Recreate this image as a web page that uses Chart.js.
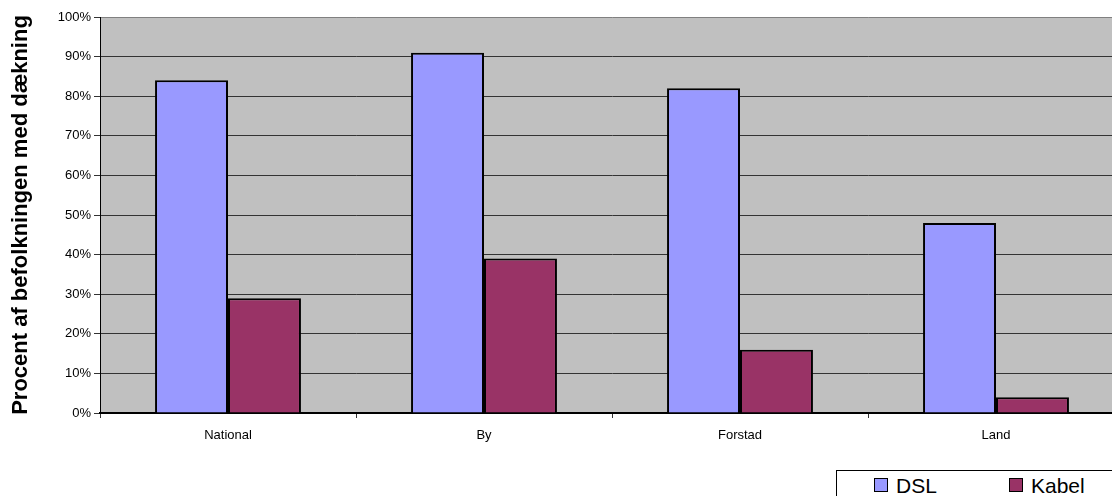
<!DOCTYPE html>
<html>
<head>
<meta charset="utf-8">
<script src="https://cdn.jsdelivr.net/npm/chart.js@4/dist/chart.umd.min.js"></script>
<style>
    body { margin: 0; background: #fff; overflow: hidden; width: 1112px; height: 496px; position: relative; font-family: "Liberation Sans", Arial, sans-serif; }
    #wrap { position: absolute; left: 0; top: 0; width: 1140px; height: 496px; }
    #legend { position: absolute; left: 836px; top: 470px; width: 300px; height: 40px; border: 1px solid #000; background: #fff; box-sizing: border-box; }
    .item { position: absolute; top: 3px; font-size: 21px; color: #000; line-height: 24px; }
    .swatch { display: inline-block; width: 12px; height: 12px; border: 1px solid #000; margin-right: 8px; vertical-align: 1px; }
</style>
</head>
<body>
<div id="wrap"><canvas id="chart" width="1140" height="496"></canvas></div>
<div id="legend"></div>
<script>
// data
const categories = ['National', 'By', 'Forstad', 'Land'];
const dslValues = [84, 91, 82, 48];
const kabelValues = [29, 39, 16, 4];
const seriesNames = ['DSL', 'Kabel'];
const seriesColors = ['#9999FF', '#993366'];
const yTitle = 'Procent af befolkningen med dækning';

// grå plotbaggrund
const plotBg = {
    id: 'plotBg',
    beforeDraw(chart) {
        const { ctx, chartArea: a } = chart;
        ctx.save();
        ctx.fillStyle = '#C0C0C0';
        ctx.fillRect(a.left, a.top, a.right - a.left, a.bottom - a.top);
        ctx.restore();
    }
};

new Chart(document.getElementById('chart').getContext('2d'), {
    type: 'bar',
    data: {
        labels: categories,
        datasets: [
            { label: seriesNames[0], data: dslValues, backgroundColor: seriesColors[0], borderColor: '#000', borderWidth: 2 },
            { label: seriesNames[1], data: kabelValues, backgroundColor: seriesColors[1], borderColor: '#000', borderWidth: 2 }
        ]
    },
    options: {
        responsive: false,
        animation: false,
        layout: { padding: { top: 17, right: 16, left: 0, bottom: 0 } },
        datasets: { bar: { categoryPercentage: 0.57, barPercentage: 1 } },
        plugins: { legend: { display: false }, tooltip: { enabled: false } },
        scales: {
            x: {
                afterFit: (scale) => { scale.height = 83; },
                border: { color: '#000', width: 2 },
                grid: { offset: true, drawOnChartArea: false, drawTicks: true, tickLength: 5, color: '#333' },
                ticks: { color: '#000', padding: 10, font: { family: 'Liberation Sans', size: 13 } }
            },
            y: {
                min: 0,
                max: 100,
                afterFit: (scale) => { scale.width = 100; },
                border: { color: '#000', width: 1 },
                grid: {
                    color: (c) => (c.tick && c.tick.value === 100 ? '#808080' : '#333'),
                    tickColor: '#333',
                    tickLength: 6,
                    lineWidth: 1
                },
                ticks: {
                    stepSize: 10,
                    padding: 3,
                    color: '#000',
                    font: { family: 'Liberation Sans', size: 13 },
                    callback: (v) => v + '%'
                },
                title: {
                    display: true,
                    text: yTitle,
                    color: '#000',
                    padding: { top: 8, bottom: 0 },
                    font: { family: 'Liberation Sans', size: 22, weight: 'bold' }
                }
            }
        }
    },
    plugins: [plotBg]
});

// forklaring
const legend = document.getElementById('legend');
const positions = [37, 172];
seriesNames.forEach((name, i) => {
    const item = document.createElement('div');
    item.className = 'item';
    item.style.left = positions[i] + 'px';
    item.innerHTML = '<span class="swatch" style="background:' + seriesColors[i] + '"></span>' + name;
    legend.appendChild(item);
});
</script>
</body>
</html>
